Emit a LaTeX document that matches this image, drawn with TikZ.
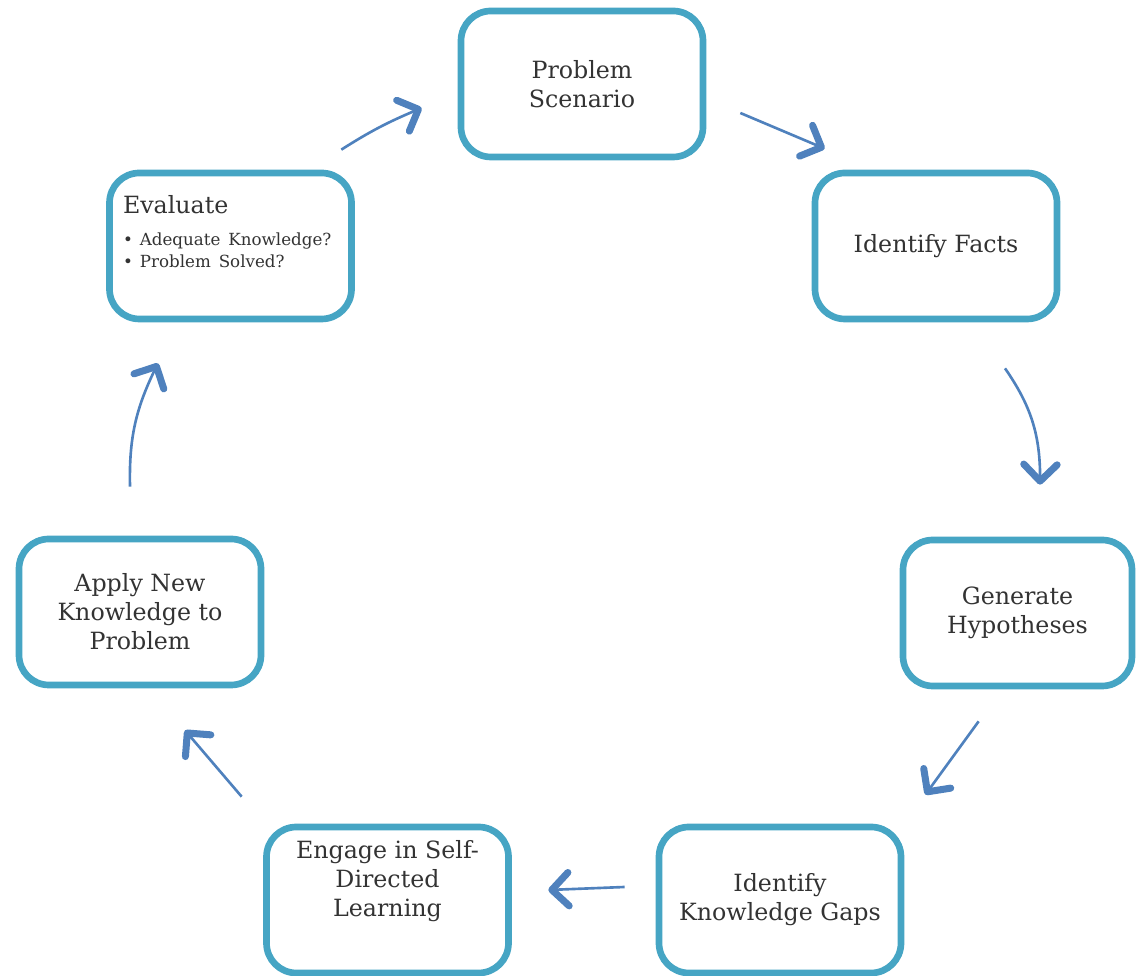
\documentclass[tikz,border=0pt]{standalone}
\usepackage{fontspec}
\setmainfont{DejaVu Serif}
\usepackage{tikz}
\usetikzlibrary{arrows.meta}
\usetikzlibrary{calc}
\usetikzlibrary{bending}
\definecolor{stageblue}{HTML}{46A5C4}
\definecolor{flowblue}{HTML}{4F81BD}
\definecolor{textgrey}{HTML}{333333}
\tikzset{
  stage/.style={draw=stageblue, line width=3.8pt, rounded corners=17pt, fill=white,
    minimum width=4.84cm, minimum height=2.92cm, align=center, text=textgrey,
    font=\fontsize{13.5}{16.5}\selectfont},
  flow/.style={draw=flowblue, line width=1.5pt,
    -{Straight Barb[length=9.5pt,width=19pt,line width=4pt,round]}}
}

\begin{document}
\begin{tikzpicture}
\useasboundingbox (0,0) rectangle (22.74,19.52);

\node[stage] (prob) at (11.64,17.84) {Problem\\Scenario};
\node[stage] (facts) at (18.72,14.6) {Identify Facts};
\node[stage, minimum width=4.58cm] (hyp) at (20.35,7.26) {Generate\\Hypotheses};
\node[stage] (gaps) at (15.6,1.52) {Identify\\Knowledge Gaps};
\node[stage] (engage) at (7.75,1.52) {Engage in Self-\\Directed\\Learning\\[8pt]\mbox{}};
\node[stage] (apply) at (2.8,7.28) {Apply New\\Knowledge to\\Problem};
\node[stage, align=left, text width=4.3cm] (eval) at (4.61,14.6)
  {Evaluate\\[6pt]
   {\fontsize{9.5}{12.5}\selectfont \textbullet\hspace{4pt}Adequate Knowledge?\\
    \textbullet\hspace{4pt}Problem Solved?\\ \mbox{}}};

% cycle arrows
\draw[flow] ($(eval.north east)+(-0.27,0.40)$) to[bend left=5] ($(prob.west)+(-0.72,-0.48)$);
\draw[flow] ($(prob.east)+(0.68,-0.58)$) -- ($(facts.north west)+(0.26,0.42)$);
\draw[flow] ($(facts.south)+(1.38,-0.92)$) to[bend left=18] ($(hyp.north)+(0.45,1.04)$);
\draw[flow] ($(hyp.south west)+(1.58,-0.64)$) -- ($(gaps.north east)+(0.42,0.58)$);
\draw[flow] ($(gaps.west)+(-0.62,0.26)$) -- ($(engage.east)+(0.73,0.2)$);
\draw[flow] ($(engage.north west)+(-0.43,0.54)$) -- ($(apply.south)+(0.9,-0.84)$);
\draw[flow] ($(apply.north)+(-0.2,0.98)$) to[bend left=14] ($(eval.south)+(-1.45,-0.82)$);

\end{tikzpicture}
\end{document}
